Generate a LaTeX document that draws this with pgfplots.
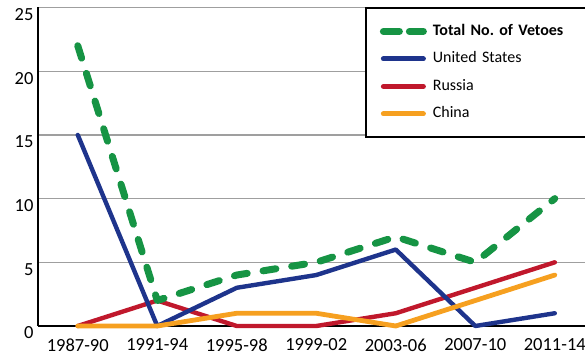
\documentclass[border=0pt]{standalone}
\usepackage{pgfplots}
\pgfplotsset{compat=1.18}
\usepackage{fontspec}
\setmainfont{Carlito}

\definecolor{vgreen}{RGB}{22,148,68}
\definecolor{vblue}{RGB}{30,52,140}
\definecolor{vred}{RGB}{192,24,44}
\definecolor{vorange}{RGB}{246,160,32}

\begin{document}
\begin{tikzpicture}
\begin{axis}[
  at={(38bp,34bp)}, anchor=south west,
  scale only axis, width=547bp, height=318.5bp,
  xmin=-0.5, xmax=6.38, ymin=0, ymax=25,
  axis x line*=bottom, axis y line*=left,
  axis line style={black, line width=1.6bp, -},
  xtick={0,...,6},
  xticklabels={1987-90,1991-94,1995-98,1999-02,2003-06,2007-10,2011-14},
  extra x ticks={0.5,1.5,...,5.5},
  extra x tick labels={},
  extra x tick style={major tick length=6bp, tick style={black, line width=1.2bp}, tick align=inside},
  xtick style={draw=none},
  ytick={0,5,...,25},
  ytick style={draw=none},
  ymajorgrids,
  grid style={gray!75, line width=1.3bp},
  tick label style={font=\fontsize{18.5bp}{20bp}\selectfont},
  xticklabel style={yshift=-9bp},
  yticklabel style={yshift=-7bp, xshift=-1bp},
  /pgf/number format/assume math mode=true,
  clip=false,
  legend cell align=left,
  legend image code/.code={
    \path[draw=none, fill=none] (0bp,-4bp) rectangle (47bp,4bp);
    \draw[#1] (3.5bp,0bp) -- (43.5bp,0bp);
  },
  legend style={
    at={(0.5978,1)}, anchor=north west,
    draw=black, line width=1.8bp, fill=white,
    inner xsep=14bp, inner ysep=16bp,
    row sep=13.5bp, column sep=6bp,
    font=\fontsize{16bp}{18bp}\selectfont,
    nodes={inner sep=0pt, text height=11bp, text depth=3bp, text width=160bp},
  },
]
% series: vetoes per four-year period
\addplot[vred, line width=4.4bp, line join=round, line cap=round, forget plot]
  coordinates {(0,0) (1,2) (2,0) (3,0) (4,1) (5,3) (6,5)};
\addplot[vblue, line width=4.4bp, line join=round, line cap=round, forget plot]
  coordinates {(0,15) (1,0) (2,3) (3,4) (4,6) (5,0) (6,1)};
\addplot[vorange, line width=4.8bp, line join=round, line cap=round, forget plot]
  coordinates {(0,0) (1,0) (2,1) (3,1) (4,0) (5,2) (6,4)};
\addplot[vgreen, line width=7bp, line join=round, line cap=round,
         dash pattern=on 13bp off 16bp, forget plot]
  coordinates {(0,22) (1,2) (2,4) (3,5) (4,7) (5,5) (6,10)};

\addlegendimage{vgreen, line width=7bp, line cap=round, dash pattern=on 16bp off 10bp}
\addlegendentry{\textbf{Total No.\ of Vetoes}}
\addlegendimage{vblue, line width=5bp, line cap=round}
\addlegendentry{United States}
\addlegendimage{vred, line width=5bp, line cap=round}
\addlegendentry{Russia}
\addlegendimage{vorange, line width=5bp, line cap=round}
\addlegendentry{China}
\end{axis}
\pgfresetboundingbox
\path (0bp,0bp) rectangle (585bp,360bp);
\end{tikzpicture}
\end{document}
